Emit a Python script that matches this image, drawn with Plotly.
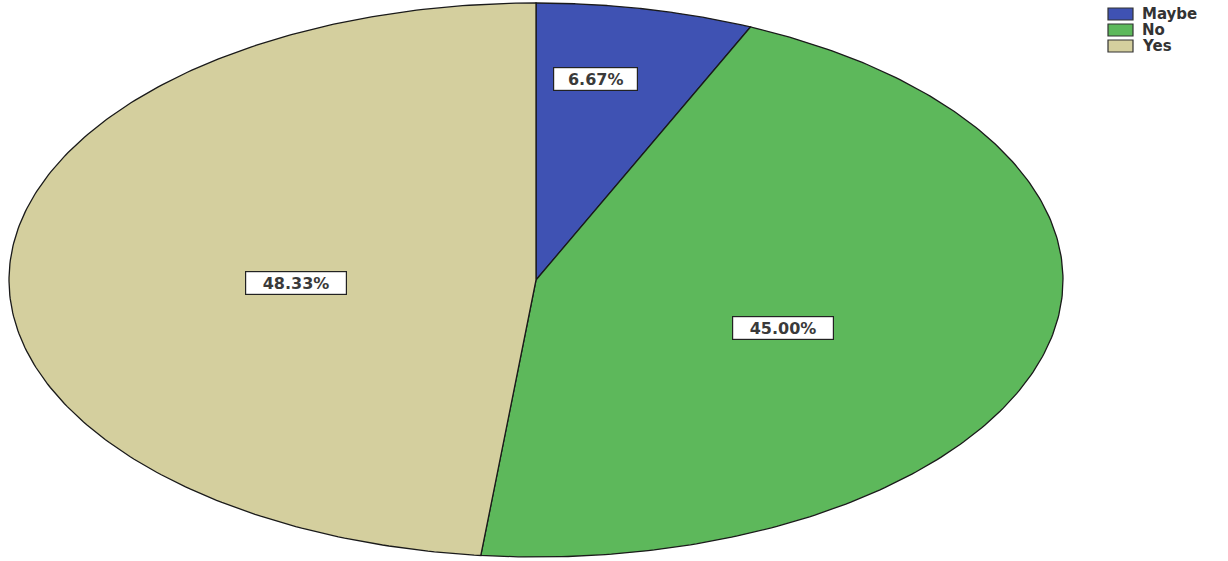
import numpy as np
import plotly.graph_objects as go

categories = ["Maybe", "No", "Yes"]
percentages = [6.67, 45.00, 48.33]
colors = ["#3F52B3", "#5DB85B", "#D4CF9E"]

# layout of the elliptical pie (pixel-space axes)
W, H = 1228, 561
cx, cy = 536, 280
a, b = 527, 277
# label anchor offsets, as fractions of the semi-axes
label_fx = [0.112, 0.469, -0.455]
label_fy = [-0.724, 0.173, 0.011]
FONT = "DejaVu Sans, Arial"

fig = go.Figure()
total = sum(percentages)
start = 0.0
for cat, pct, col in zip(categories, percentages, colors):
    span = pct / total * 2 * np.pi
    t = np.linspace(start, start + span, 240)
    xs = np.concatenate([[cx], cx + a * np.sin(t), [cx]])
    ys = np.concatenate([[cy], cy - b * np.cos(t), [cy]])
    fig.add_trace(go.Scatter(
        x=xs, y=ys, mode="lines", fill="toself", fillcolor=col,
        line=dict(color="#1a1a1a", width=1.3), name=cat, hoverinfo="skip",
        showlegend=False,
    ))
    start += span

for pct, fx, fy in zip(percentages, label_fx, label_fy):
    txt = f"{pct:.2f}%"
    fig.add_annotation(
        x=cx + a * fx, y=cy + b * fy,
        text=txt, showarrow=False,
        font=dict(family=FONT, size=16, color="#3a3a3a", weight=600),
        bgcolor="white", bordercolor="#222222", borderwidth=1.2, borderpad=0,
        width=16.6 * len(txt), height=22, align="center", valign="middle",
    )

# legend (drawn as boxes + text)
leg_x0, leg_y0, leg_dy = 1108, 14, 16
for i, (cat, col) in enumerate(zip(categories, colors)):
    yc = leg_y0 + i * leg_dy
    fig.add_shape(type="rect", xref="x", yref="y",
                  x0=leg_x0, x1=leg_x0 + 25, y0=yc - 6, y1=yc + 6,
                  fillcolor=col, line=dict(color="#333333", width=1.2))
    fig.add_annotation(x=leg_x0 + 32, y=yc, xanchor="left", yanchor="middle",
                       text=cat, showarrow=False,
                       font=dict(family=FONT, size=15, color="#333333", weight=600))

fig.update_layout(
    width=W, height=H, margin=dict(l=0, r=0, t=0, b=0),
    paper_bgcolor="white", plot_bgcolor="white",
    xaxis=dict(range=[0, W], visible=False, fixedrange=True),
    yaxis=dict(range=[H, 0], visible=False, fixedrange=True),
    showlegend=False,
)
fig.write_html("out.html")
